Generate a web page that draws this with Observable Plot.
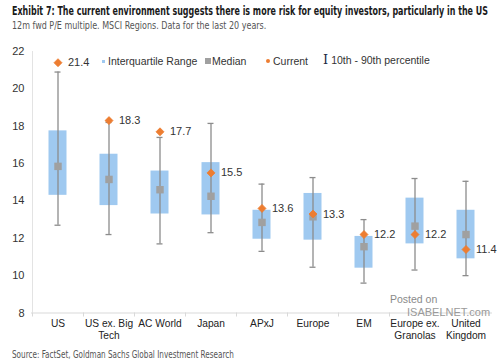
<!DOCTYPE html>
<html>
<head>
<meta charset="utf-8">
<script src="https://cdn.jsdelivr.net/npm/d3@7"></script>
<script src="https://cdn.jsdelivr.net/npm/@observablehq/plot@0.6"></script>
<style>
  html, body { margin: 0; padding: 0; background: #fff; }
  #wrap { position: relative; width: 500px; height: 362px; overflow: hidden; font-family: "Liberation Sans", Arial, sans-serif; }
  .fit { position: absolute; left: 12px; transform-origin: 0 0; white-space: nowrap; font-family: "DejaVu Sans", sans-serif; font-stretch: condensed; }
  #title { top: 3px; font-weight: bold; font-size: 12.5px; color: #1a1a1a; }
  #subtitle { top: 19px; font-size: 10.5px; color: #555; }
  #chart { position: absolute; left: 0; top: 40px; }
  #source { top: 348px; font-size: 10.5px; color: #555; }
  .leg { position: absolute; top: 55px; font-size: 10.5px; color: #333; white-space: nowrap; }
  .ico { display: inline-block; vertical-align: middle; margin-right: 3px; }
  #wm1 { position: absolute; left: 390px; top: 293px; font-size: 10.5px; color: #8a8a8a; }
  #wm2 { position: absolute; left: 407px; top: 306px; font-size: 11px; color: #9a9a9a; }
</style>
</head>
<body>
<div id="wrap">
  <div id="title" class="fit" data-w="476">Exhibit 7: The current environment suggests there is more risk for equity investors, particularly in the US</div>
  <div id="subtitle" class="fit" data-w="254">12m fwd P/E multiple. MSCI Regions. Data for the last 20 years.</div>
  <div id="chart"></div>
  <div class="leg" style="left:102px"><span class="ico" style="width:3px;height:3px;background:#9fc9f0;margin-bottom:2px"></span>Interquartile Range</div>
  <div class="leg" style="left:205px"><span class="ico" style="width:6px;height:6px;background:#a0a0a0;margin-bottom:2px;margin-right:1px"></span>Median</div>
  <div class="leg" style="left:266px"><span class="ico" style="width:4px;height:4px;background:#ed7d31;border-radius:50%;margin-bottom:2px"></span>Current</div>
  <div class="leg" style="left:323px;top:52px"><span style="font-family:'DejaVu Serif',serif;font-size:13px;color:#1f2a44;margin-right:3px">I</span><span style="font-size:10.5px">10th - 90th percentile</span></div>
  <div id="wm1">Posted on</div>
  <div id="wm2">ISABELNET.com</div>
  <div id="source" class="fit" data-w="222">Source: FactSet, Goldman Sachs Global Investment Research</div>
</div>
<script>
const categories = ["US", "US ex. Big\nTech", "AC World", "Japan", "APxJ", "Europe", "EM", "Europe ex.\nGranolas", "United\nKingdom"];
const p10     = [12.7, 12.2, 11.7, 12.3, 11.3, 10.45, 9.6, 10.3, 10.0];
const p25     = [14.3, 13.75, 13.3, 13.25, 11.95, 11.9, 10.4, 11.7, 10.9];
const median  = [15.85, 15.15, 14.6, 14.25, 12.85, 13.15, 11.55, 12.65, 12.2];
const p75     = [17.75, 16.5, 15.6, 16.05, 13.5, 14.4, 12.1, 14.15, 13.5];
const p90     = [20.9, 18.2, 17.4, 18.15, 14.9, 15.25, 13.0, 15.2, 15.05];
const current = [21.4, 18.3, 17.7, 15.5, 13.6, 13.3, 12.2, 12.2, 11.4];
const yTicks  = [8, 10, 12, 14, 16, 18, 20, 22];

const data = categories.map((c, i) => ({
  cat: c, p10: p10[i], p25: p25[i], med: median[i], p75: p75[i], p90: p90[i], cur: current[i]
}));

const plot = Plot.plot({
  width: 500,
  height: 305,
  marginTop: 11,
  marginBottom: 32.5,
  marginLeft: 31,
  marginRight: 8,
  style: { fontFamily: "'Liberation Sans', Arial, sans-serif", fontSize: "11px", color: "#333" },
  x: { domain: categories, padding: 0, label: null },
  y: { domain: [8, 22], ticks: yTicks, label: null },
  marks: [
    Plot.ruleY([8], { stroke: "#d9d9d9" }),
    Plot.ruleX([categories[0]], { stroke: "#e3e3e3", y1: 8, y2: 22, dx: -25.5 }),
    Plot.axisY({ ticks: yTicks, tickSize: 0, tickPadding: 7, fontSize: 11, fill: "#333" }),
    Plot.axisX({ tickSize: 0, tickPadding: 6, fontSize: 10.2, fill: "#222", lineHeight: 1.15 }),
    Plot.axisX({ tickSize: 4, text: null, dx: -25.5, stroke: "#d9d9d9" }),
    Plot.barY(data, { x: "cat", y1: "p25", y2: "p75", fill: "#9fc9f0", insetLeft: 16.5, insetRight: 16.5 }),
    Plot.ruleX(data, { x: "cat", y1: "p10", y2: "p90", stroke: "#8c8c8c", strokeWidth: 1.3 }),
    Plot.tickY(data, { x: "cat", y: "p90", stroke: "#8c8c8c", strokeWidth: 1.3, insetLeft: 22.5, insetRight: 22.5 }),
    Plot.tickY(data, { x: "cat", y: "p10", stroke: "#8c8c8c", strokeWidth: 1.3, insetLeft: 22.5, insetRight: 22.5 }),
    Plot.dot(data, { x: "cat", y: "med", symbol: "square", r: 4.2, fill: "#a0a0a0", stroke: "none" }),
    Plot.dot(data, { x: "cat", y: "cur", symbol: "diamond2", r: 3.6, fill: "#ed7d31", stroke: "#ed7d31", strokeWidth: 0.8 }),
    Plot.text(data, { x: "cat", y: "cur", text: d => d.cur.toFixed(1), dx: 10, textAnchor: "start", fontSize: 11, fill: "#333" })
  ]
});
document.getElementById("chart").appendChild(plot);

document.querySelectorAll(".fit").forEach(el => {
  const target = +el.dataset.w;
  const w = el.scrollWidth;
  if (w > 0) el.style.transform = `scaleX(${target / w})`;
});
</script>
</body>
</html>
